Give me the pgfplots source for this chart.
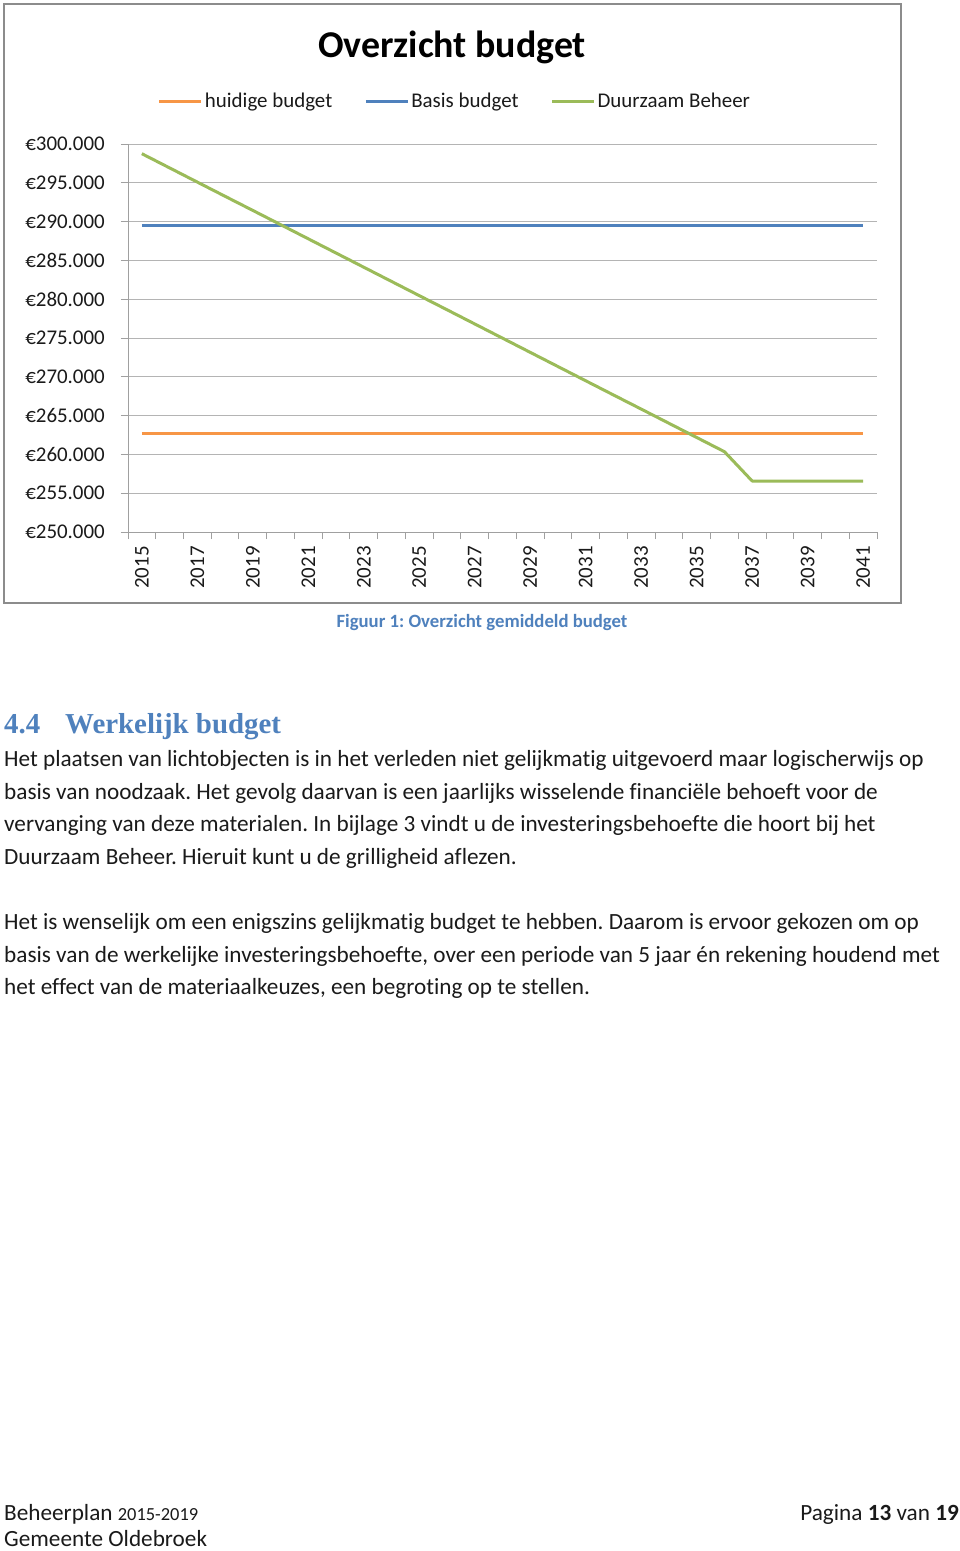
\documentclass[border=0pt]{standalone}
\usepackage{fontspec}
\setmainfont{Carlito}[Ligatures=NoCommon]
\newfontfamily\headfont{Liberation Serif}
\frenchspacing
\usepackage{pgfplots}
\pgfplotsset{compat=1.18}
\definecolor{xlorange}{HTML}{F79646}
\definecolor{xlblue}{HTML}{4F81BD}
\definecolor{xlgreen}{HTML}{9BBB59}
\definecolor{capblue}{HTML}{4F81BD}
\definecolor{gridgray}{HTML}{B4B4B4}
\definecolor{axgray}{HTML}{A0A0A0}
\definecolor{framegray}{HTML}{8C8C8C}
\definecolor{txt}{HTML}{1A1A1A}
\begin{document}
\begin{tikzpicture}
\useasboundingbox[fill=white] (0,0) rectangle (960bp,-1551bp);
\draw[framegray, line width=1.6bp] (4bp,-4bp) rectangle (901bp,-603bp);
\begin{axis}[
  scale only axis, width=749bp, height=388bp,
  at={(128bp,-532bp)}, anchor=south west,
  xmin=-0.5, xmax=26.5, ymin=250000, ymax=300000,
  scaled y ticks=false,
  axis x line*=bottom, axis y line*=left,
  axis line style={axgray, line width=1bp, -},
  xtick={-0.5,0.5,1.5,2.5,3.5,4.5,5.5,6.5,7.5,8.5,9.5,10.5,11.5,12.5,13.5,14.5,15.5,16.5,17.5,18.5,19.5,20.5,21.5,22.5,23.5,24.5,25.5,26.5},
  xticklabels={},
  extra x ticks={0,2,4,6,8,10,12,14,16,18,20,22,24,26},
  extra x tick labels={2015,2017,2019,2021,2023,2025,2027,2029,2031,2033,2035,2037,2039,2041},
  extra x tick style={major tick length=0pt, grid=none},
  ytick={250000,255000,260000,265000,270000,275000,280000,285000,290000,295000,300000},
  yticklabels={€250.000,€255.000,€260.000,€265.000,€270.000,€275.000,€280.000,€285.000,€290.000,€295.000,€300.000},
  ymajorgrids, grid style={gridgray, line width=1bp},
  tick align=outside, major tick length=7bp,
  tick style={axgray, line width=1bp},
  x tick label style={rotate=90, anchor=east, inner sep=0pt, xshift=-14bp, font=\fontsize{21}{21}\selectfont, text=txt},
  y tick label style={anchor=east, inner sep=0pt, xshift=-16bp, font=\fontsize{21}{21}\selectfont, text=txt},
  title={Overzicht budget},
  title style={at={(axis description cs:0.4326,1.2346)}, anchor=center, inner sep=0pt, font=\fontsize{38}{38}\selectfont\bfseries, text=black},
  legend columns=3,
  legend style={at={(axis description cs:0.4366,1.1108)}, anchor=center, draw=none, fill=none,
    font=\fontsize{21}{21}\selectfont, text=txt, inner sep=0pt,
    nodes={inner xsep=2bp, inner ysep=0pt},
    /tikz/every even column/.append style={column sep=30bp}},
  legend image code/.code={\draw[#1] (0bp,0bp) -- (42bp,0bp);},
  every axis plot/.append style={line width=3bp, line join=round},
]
\addplot[xlorange] coordinates {
(0,262750) (1,262750) (2,262750) (3,262750) (4,262750) (5,262750) (6,262750) (7,262750) (8,262750)
(9,262750) (10,262750) (11,262750) (12,262750) (13,262750) (14,262750) (15,262750) (16,262750) (17,262750)
(18,262750) (19,262750) (20,262750) (21,262750) (22,262750) (23,262750) (24,262750) (25,262750) (26,262750)};
\addlegendentry{huidige budget}
\addplot[xlblue] coordinates {
(0,289450) (1,289450) (2,289450) (3,289450) (4,289450) (5,289450) (6,289450) (7,289450) (8,289450)
(9,289450) (10,289450) (11,289450) (12,289450) (13,289450) (14,289450) (15,289450) (16,289450) (17,289450)
(18,289450) (19,289450) (20,289450) (21,289450) (22,289450) (23,289450) (24,289450) (25,289450) (26,289450)};
\addlegendentry{Basis budget}
\addplot[xlgreen] coordinates {
(0,298750) (1,296920) (2,295090) (3,293260) (4,291440) (5,289610) (6,287780) (7,285950) (8,284120)
(9,282290) (10,280460) (11,278640) (12,276810) (13,274980) (14,273150) (15,271320) (16,269490) (17,267660)
(18,265840) (19,264010) (20,262180) (21,260350) (22,256570) (23,256570) (24,256570) (25,256570) (26,256570)};
\addlegendentry{Duurzaam Beheer}
\end{axis}
\node[anchor=base, inner sep=0pt, text=capblue, font=\fontsize{18.8}{18.8}\selectfont\bfseries] at (482bp,-627bp) {Figuur 1: Overzicht gemiddeld budget};
\node[anchor=base west, inner sep=0pt, text=capblue, font=\headfont\fontsize{29}{29}\selectfont\bfseries] at (4bp,-733bp) {4.4};
\node[anchor=base west, inner sep=0pt, text=capblue, font=\headfont\fontsize{29}{29}\selectfont\bfseries] at (65bp,-733bp) {Werkelijk budget};
\begin{scope}[every node/.style={anchor=base west, inner sep=0pt, text=txt, font=\fontsize{23.3}{23.3}\selectfont}]
\node at (4bp,-766bp) {Het plaatsen van lichtobjecten is in het verleden niet gelijkmatig uitgevoerd maar logischerwijs op};
\node at (4bp,-799bp) {basis van noodzaak. Het gevolg daarvan is een jaarlijks wisselende financiële behoeft voor de};
\node at (4bp,-831bp) {vervanging van deze materialen. In bijlage 3 vindt u de investeringsbehoefte die hoort bij het};
\node at (4bp,-864bp) {Duurzaam Beheer. Hieruit kunt u de grilligheid aflezen.};
\node at (4bp,-929bp) {Het is wenselijk om een enigszins gelijkmatig budget te hebben. Daarom is ervoor gekozen om op};
\node at (4bp,-962bp) {basis van de werkelijke investeringsbehoefte, over een periode van 5 jaar én rekening houdend met};
\node at (4bp,-994bp) {het effect van de materiaalkeuzes, een begroting op te stellen.};
\node at (4bp,-1520bp) {Beheerplan {\fontsize{18.5}{18.5}\selectfont 2015-2019}};
\node at (4bp,-1546bp) {Gemeente Oldebroek};
\node[anchor=base east] at (959bp,-1520bp) {Pagina \textbf{13} van \textbf{19}};
\end{scope}
\end{tikzpicture}
\end{document}
